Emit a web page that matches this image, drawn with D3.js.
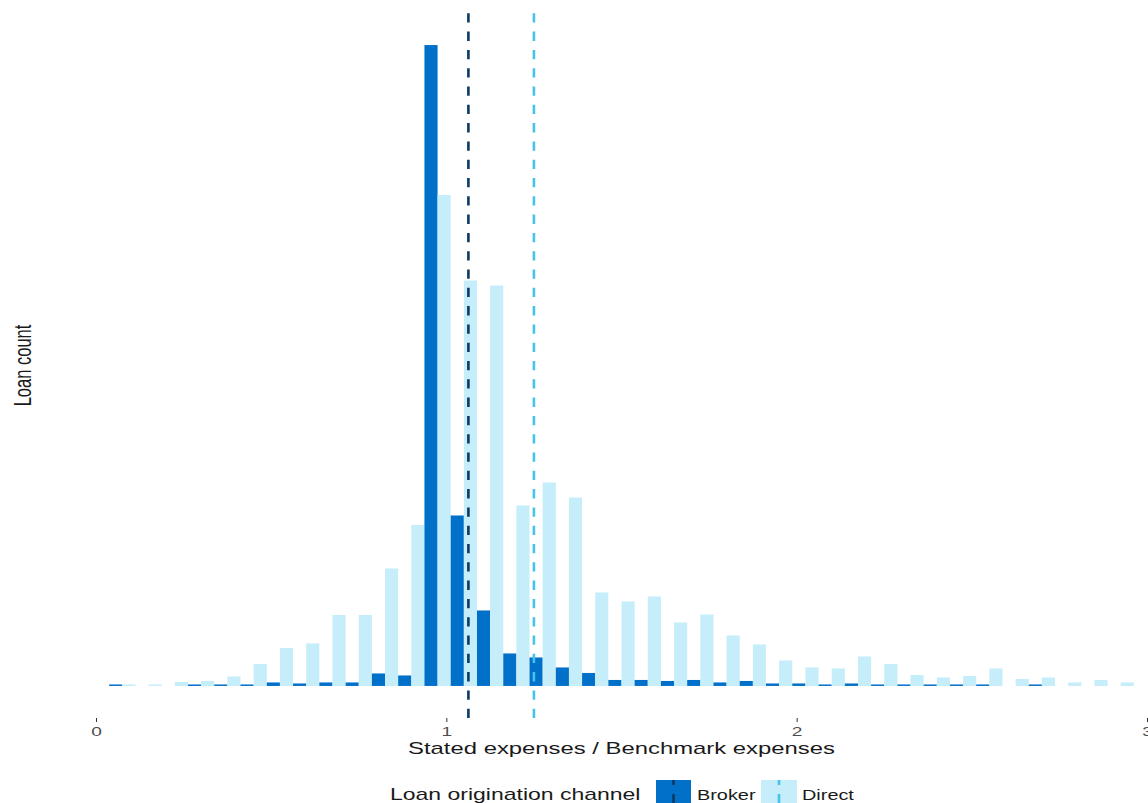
<!DOCTYPE html>
<html>
<head>
<meta charset="utf-8">
<script src="https://cdn.jsdelivr.net/npm/d3@7"></script>
<style>
  body { margin: 0; background: #fff; }
  svg { display: block; }
  text { font-family: "Liberation Sans", Arial, Helvetica, sans-serif; }
</style>
</head>
<body>
<svg id="chart" width="1148" height="803"></svg>
<script>
// Histogram bins (centre of each 0.075-wide bin of the expense ratio)
const binCenters = [
  0.075, 0.150, 0.225, 0.300, 0.375, 0.450, 0.525, 0.600, 0.675, 0.750,
  0.825, 0.900, 0.975, 1.050, 1.125, 1.200, 1.275, 1.350, 1.425, 1.500,
  1.575, 1.650, 1.725, 1.800, 1.875, 1.950, 2.025, 2.100, 2.175, 2.250,
  2.325, 2.400, 2.475, 2.550, 2.625, 2.700, 2.775, 2.850, 2.925
];

// Loan counts per bin, broker-originated loans
const brokerCounts = [
  3, 0, 0, 3, 3, 3, 7, 5, 7, 7,
  25, 21, 1282, 341, 151, 65, 57, 37, 26, 12,
  12, 10, 12, 7, 10, 5, 5, 3, 5, 3,
  3, 3, 3, 3, 0, 3, 0, 0, 0
];

// Loan counts per bin, directly originated loans
const directCounts = [
  3, 3, 8, 10, 19, 44, 76, 85, 142, 142,
  235, 322, 982, 811, 801, 361, 407, 377, 187, 169,
  179, 127, 143, 101, 83, 51, 37, 35, 59, 44,
  22, 17, 20, 35, 14, 17, 7, 12, 7
];

const channels = ["Broker", "Direct"];
const channelMeans = [1.063, 1.250];
const xTicks = [0, 1, 2, 3];

const fills = { Broker: "#0070c9", Direct: "#c6edfa" };
const meanColors = { Broker: "#0b3a63", Direct: "#45c3ea" };

const STRETCH = 1.42;           // wide text rendering used throughout
const panel = { left: 96, right: 1147, top: 13, bottom: 718 };

const svg = d3.select("#chart");

const x = d3.scaleLinear().domain([0, 3]).range([panel.left, panel.right]);
const binWidth = binCenters[1] - binCenters[0];
const dodge = d3.scaleBand().domain(channels).range([0, x(binWidth) - x(0)]);

const maxCount = d3.max(brokerCounts.concat(directCounts));
const y = d3.scaleLinear()
  .domain([-0.05 * maxCount, 1.05 * maxCount])
  .range([panel.bottom, panel.top]);

const rows = [];
binCenters.forEach((c, i) => {
  rows.push({ center: c, channel: "Broker", count: brokerCounts[i] });
  rows.push({ center: c, channel: "Direct", count: directCounts[i] });
});

// Dodged bars
svg.append("g")
  .selectAll("rect")
  .data(rows.filter(d => d.count > 0))
  .join("rect")
  .attr("x", d => x(d.center - binWidth / 2) + dodge(d.channel))
  .attr("width", dodge.bandwidth())
  .attr("y", d => y(d.count))
  .attr("height", d => y(0) - y(d.count))
  .attr("fill", d => fills[d.channel]);

// Mean ratio per channel
svg.append("g")
  .selectAll("line")
  .data(channels.map((ch, i) => ({ channel: ch, mean: channelMeans[i] })))
  .join("line")
  .attr("x1", d => x(d.mean))
  .attr("x2", d => x(d.mean))
  .attr("y1", panel.bottom)
  .attr("y2", panel.top)
  .attr("stroke", d => meanColors[d.channel])
  .attr("stroke-width", 2.6)
  .attr("stroke-dasharray", "9.3 9");

// X axis (ticks and labels only)
const xAxis = svg.append("g")
  .attr("transform", `translate(0,${panel.bottom})`)
  .call(d3.axisBottom(x).tickValues(xTicks).tickFormat(d3.format("d")).tickSize(4).tickPadding(4));
xAxis.select(".domain").remove();
xAxis.selectAll(".tick line").attr("stroke", "#333333").attr("stroke-width", 1);
xAxis.selectAll(".tick text")
  .attr("fill", "#4d4d4d")
  .attr("font-size", 13.5)
  .attr("transform", `scale(${STRETCH},1)`);

// Axis titles
svg.append("text")
  .attr("transform", `translate(${(panel.left + panel.right) / 2},754) scale(${STRETCH},1)`)
  .attr("text-anchor", "middle")
  .attr("font-size", 16.8)
  .attr("fill", "#1a1a1a")
  .text("Stated expenses / Benchmark expenses");

svg.append("text")
  .attr("transform", `translate(31,${(panel.top + panel.bottom) / 2}) scale(${STRETCH},1) rotate(-90)`)
  .attr("text-anchor", "middle")
  .attr("font-size", 16.5)
  .attr("fill", "#1a1a1a")
  .text("Loan count");

// Legend
const legend = svg.append("g");
legend.append("text")
  .attr("transform", `translate(390,800) scale(${STRETCH},1)`)
  .attr("font-size", 16.2)
  .attr("fill", "#1a1a1a")
  .text("Loan origination channel");

const legendItems = [
  { channel: "Broker", keyX: 656, keyW: 35, labelX: 697 },
  { channel: "Direct", keyX: 761, keyW: 36, labelX: 802 }
];
const items = legend.selectAll("g.item").data(legendItems).join("g").attr("class", "item");
items.append("rect")
  .attr("x", d => d.keyX)
  .attr("y", 780)
  .attr("width", d => d.keyW)
  .attr("height", 34)
  .attr("fill", d => fills[d.channel]);
items.append("line")
  .attr("x1", d => d.keyX + d.keyW / 2)
  .attr("x2", d => d.keyX + d.keyW / 2)
  .attr("y1", 780)
  .attr("y2", 814)
  .attr("stroke", d => meanColors[d.channel])
  .attr("stroke-width", 2.6)
  .attr("stroke-dasharray", "9 9")
  .attr("stroke-dashoffset", 4);
items.append("text")
  .attr("transform", d => `translate(${d.labelX},800) scale(${STRETCH},1)`)
  .attr("font-size", 14)
  .attr("fill", "#1a1a1a")
  .text(d => d.channel);
</script>
</body>
</html>
